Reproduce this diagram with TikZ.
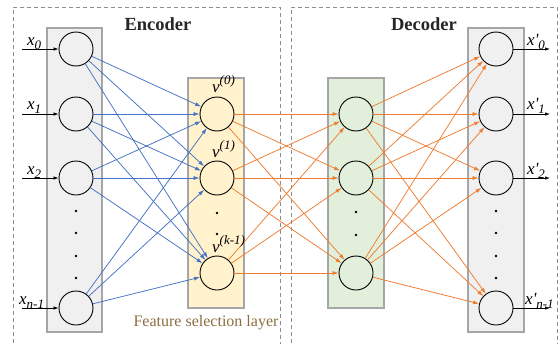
\documentclass[tikz,border=0pt]{standalone}
\usepackage{fontspec}
\setmainfont{Liberation Serif}
\usetikzlibrary{arrows.meta}
\definecolor{lnblue}{HTML}{4472C4}
\definecolor{lnorange}{HTML}{ED7D31}
\definecolor{panelgray}{HTML}{F0F0F0}
\definecolor{panelyellow}{HTML}{FFF2CC}
\definecolor{panelgreen}{HTML}{E2EFDA}
\definecolor{panelborder}{HTML}{A6A6A6}
\definecolor{dashgray}{HTML}{8C8C8C}
\definecolor{labelbrown}{HTML}{8C6D3F}
\newcommand{\mysub}[1]{\raisebox{-0.28em}{\fontsize{13}{14}\selectfont #1}}
\newcommand{\mysup}[1]{\raisebox{0.42em}{\fontsize{13}{14}\selectfont #1}}
\begin{document}
\begin{tikzpicture}[x=1pt,y=-1pt,
  neuron/.style={circle,draw=black,line width=0.9pt,minimum size=34pt,inner sep=0pt},
  panel/.style={draw=panelborder,line width=1.3pt},
  groupbox/.style={draw=dashgray,dashed,dash pattern=on 4pt off 3pt,line width=0.8pt},
  bedge/.style={draw=lnblue,line width=0.75pt,-{Latex[length=6pt,width=4pt]}},
  oedge/.style={draw=lnorange,line width=0.75pt,-{Latex[length=6pt,width=4pt]}},
  ioedge/.style={draw=black,line width=0.7pt,-{Latex[length=5pt,width=3.5pt]}},
  dotmark/.style={circle,fill=black,inner sep=0pt,minimum size=2.6pt},
  iolabel/.style={anchor=base west,inner sep=0pt,font=\fontsize{17}{19}\selectfont\itshape},
  vlabel/.style={anchor=base west,inner sep=0pt,font=\fontsize{17}{19}\selectfont\itshape},
  title/.style={font=\fontsize{18.5}{21}\selectfont\bfseries,text=black!85}
]
\useasboundingbox (0,0) rectangle (560,343);
% group boxes
\draw[groupbox] (13,350) -- (13,7) -- (280,7) -- (280,350);
\draw[groupbox] (291,350) -- (291,7) -- (557,7) -- (557,350);
\node[title] (enc) at (158,24) {Encoder};
\node[title] (dec) at (424,24) {Decoder};
% panels
\filldraw[panel,fill=panelgray] (47,28) rectangle (102,332);
\filldraw[panel,fill=panelyellow] (188,78) rectangle (244,308);
\filldraw[panel,fill=panelgreen] (328,78) rectangle (384,308);
\filldraw[panel,fill=panelgray] (468,28) rectangle (524,332);
\node[font=\fontsize{16}{18}\selectfont,text=labelbrown] (fsl) at (206,323) {Feature selection layer};
% neurons
\foreach \n/\y in {0/49,1/114,2/178,3/308} {
  \node[neuron] (i\n) at (76,\y) {};
  \node[neuron] (o\n) at (496,\y) {};
}
\foreach \n/\y in {0/114,1/178,2/273} {
  \node[neuron] (f\n) at (217,\y) {};
  \node[neuron] (g\n) at (356,\y) {};
}
% dots
\foreach \y [count=\k] in {211,233,256,278} {
  \node[dotmark] (di\k) at (76,\y) {};
  \node[dotmark] (do\k) at (496,\y) {};
}
\foreach \y [count=\k] in {213,234} {
  \node[dotmark] (df\k) at (217,\y) {};
}
\foreach \y [count=\k] in {212,235} {
  \node[dotmark] (dg\k) at (356,\y) {};
}
% connections
\foreach \a in {0,1,2,3} {
  \foreach \b in {0,1,2} {
    \draw[bedge] (i\a) -- (f\b);
    \draw[oedge] (g\b) -- (o\a);
  }
}
\foreach \a in {0,1,2} {
  \foreach \b in {0,1,2} {
    \draw[oedge] (f\a) -- (g\b);
  }
}
% input / output arrows
\foreach \n/\y in {0/49,1/114,2/178,3/308} {
  \coordinate (in\n) at (22,\y);
  \coordinate (out\n) at (550,\y);
  \draw[ioedge] (in\n) -- (i\n);
  \draw[ioedge] (o\n) -- (out\n);
}
% labels
\node[iolabel] (lx0) at (27,45) {x\mysub{0}};
\node[iolabel] (lx1) at (27,109) {x\mysub{1}};
\node[iolabel] (lx2) at (27,174) {x\mysub{2}};
\node[iolabel] (lx3) at (19,304) {x\mysub{n-1}};
\node[iolabel] (ly0) at (527,45) {x\textquotesingle\mysub{0}};
\node[iolabel] (ly1) at (527,109) {x\textquotesingle\mysub{1}};
\node[iolabel] (ly2) at (527,174) {x\textquotesingle\mysub{2}};
\node[iolabel] (ly3) at (525,304) {x\textquotesingle\mysub{n-1}};
\node[vlabel] (lv0) at (212,92) {v\mysup{(0)}};
\node[vlabel] (lv1) at (212,157) {v\mysup{(1)}};
\node[vlabel] (lv2) at (212,252) {v\mysup{(k-1)}};
\end{tikzpicture}
\end{document}
